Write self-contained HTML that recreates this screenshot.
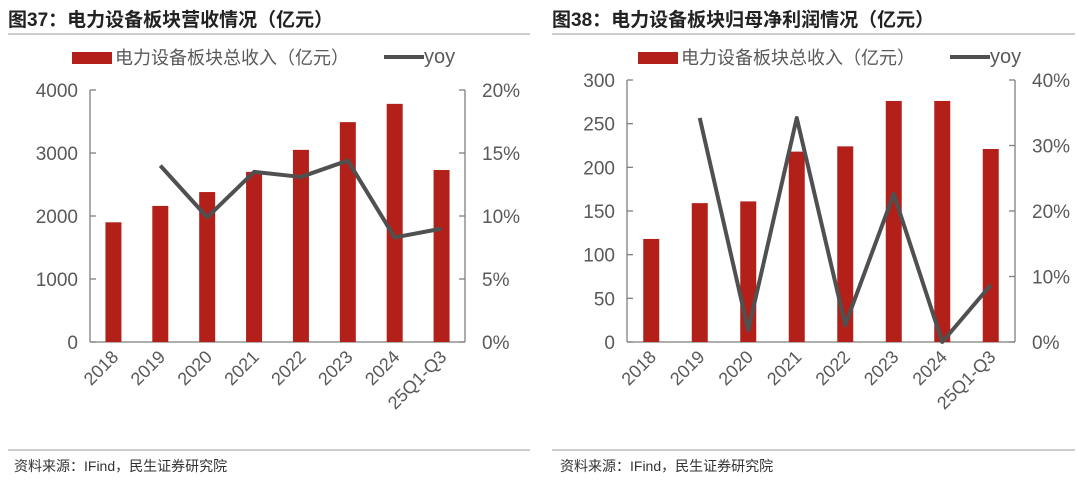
<!DOCTYPE html>
<html><head><meta charset="utf-8">
<style>
body{margin:0;background:#fff;width:1080px;height:479px;overflow:hidden;font-family:"Liberation Sans","Noto Sans CJK SC",sans-serif;}
svg text{font-family:"Liberation Sans","Noto Sans CJK SC",sans-serif;}
</style></head>
<body>
<svg id="s" width="1080" height="479" xmlns="http://www.w3.org/2000/svg">
<text x="8" y="26" font-size="19" font-weight="bold" fill="#222">图37：电力设备板块营收情况（亿元）</text>
<text x="552" y="26" font-size="19" font-weight="bold" fill="#222">图38：电力设备板块归母净利润情况（亿元）</text>
<line x1="8" y1="34" x2="530" y2="34" stroke="#999" stroke-width="1"/>
<line x1="552" y1="34" x2="1075" y2="34" stroke="#999" stroke-width="1"/>
<line x1="8" y1="450" x2="530" y2="450" stroke="#999" stroke-width="1"/>
<line x1="552" y1="450" x2="1075" y2="450" stroke="#999" stroke-width="1"/>
<text x="14" y="471" font-size="14" fill="#333">资料来源：IFind，民生证券研究院</text>
<text x="560" y="471" font-size="14" fill="#333">资料来源：IFind，民生证券研究院</text>
<g id="g1"></g><g id="g2"></g>
</svg>
<script>
const categories=["2018","2019","2020","2021","2022","2023","2024","25Q1-Q3"];
const revenue=[1900,2160,2380,2700,3050,3490,3780,2730];
const revenueYoy=[null,14.0,9.9,13.5,13.1,14.4,8.3,9.0];
const profit=[118,159,161,218,224,276,276,221];
const profitYoy=[null,34.2,1.8,34.2,2.6,22.6,0,8.7];
const leftTicks=[0,1000,2000,3000,4000];
const leftPctTicks=[0,5,10,15,20];
const rightTicks=[0,50,100,150,200,250,300];
const rightPctTicks=[0,10,20,30,40];
const NS="http://www.w3.org/2000/svg";
function mk(p,t,a){const e=document.createElementNS(NS,t);for(const k in a)e.setAttribute(k,a[k]);p.appendChild(e);return e;}
function draw(g,cfg){
 const {x0,x1,yTop,yBot,vals,yoy,ticks,pticks,vmax,pmax,legX,bw,pre}=cfg;
 const step=(x1-x0)/categories.length;
 const xs=i=>x0+step*(i+0.5);
 const yv=v=>yBot-(v/vmax)*(yBot-yTop);
 const yp=v=>yBot-(v/pmax)*(yBot-yTop);
 let e=mk(g,"line",{x1:x0,y1:yBot,x2:x1,y2:yBot,stroke:"#7f7f7f","stroke-width":1.3});
 
 
 e=mk(g,"line",{x1:x0,y1:yTop,x2:x0,y2:yBot,stroke:"#7f7f7f","stroke-width":1.3});
 
 
 e=mk(g,"line",{x1:x1,y1:yTop,x2:x1,y2:yBot,stroke:"#7f7f7f","stroke-width":1.3});
 
 
 ticks.forEach(t=>{const el=mk(g,"text",{x:x0-12,y:yv(t)+7,"font-size":19,"text-anchor":"end",fill:"#595959"});el.textContent=t;
  
  
  const tm=mk(g,"line",{x1:x0,y1:yv(t),x2:x0+6,y2:yv(t),stroke:"#7f7f7f","stroke-width":1.3});
  
  });
 pticks.forEach(t=>{const el=mk(g,"text",{x:x1+17,y:yp(t)+7,"font-size":19,fill:"#595959"});el.textContent=t+"%";
  
  
  const tm=mk(g,"line",{x1:x1-6,y1:yp(t),x2:x1,y2:yp(t),stroke:"#7f7f7f","stroke-width":1.3});
  
  });
 vals.forEach((v,i)=>{const r=mk(g,"rect",{x:xs(i)-bw/2,y:yv(v),width:bw,height:yBot-yv(v),fill:"#B22019"});
  
  
  const tx=xs(i)+6,ty=yBot+16;
  const l=mk(g,"text",{x:tx,y:ty,"font-size":18,"text-anchor":"end",fill:"#595959",transform:`rotate(-45 ${tx} ${ty})`});l.textContent=categories[i];
  
  });
 let d="";yoy.forEach((v,i)=>{if(v===null)return;d+=(d?"L":"M")+xs(i)+","+yp(v);});
 const p=mk(g,"path",{d:d,fill:"none",stroke:"#505050","stroke-width":4,"stroke-linejoin":"round"});
 
 
 const lr=mk(g,"rect",{x:legX,y:52,width:40,height:12,fill:"#B22019"});
 
 
 const lt=mk(g,"text",{x:legX+43,y:64,"font-size":18,fill:"#595959"});lt.textContent="电力设备板块总收入（亿元）";
 
 
 const ll=mk(g,"line",{x1:legX+312,y1:57,x2:legX+352,y2:57,stroke:"#505050","stroke-width":4});
 
 
 const lt2=mk(g,"text",{x:legX+352,y:63,"font-size":20,fill:"#595959"});lt2.textContent="yoy";
 
 
}
draw(document.getElementById("g1"),{x0:90,x1:465,yTop:90,yBot:342,vals:revenue,yoy:revenueYoy,ticks:leftTicks,pticks:leftPctTicks,vmax:4000,pmax:20,legX:72,bw:16,pre:"left"});
draw(document.getElementById("g2"),{x0:627,x1:1015,yTop:80,yBot:342,vals:profit,yoy:profitYoy,ticks:rightTicks,pticks:rightPctTicks,vmax:300,pmax:40,legX:638,bw:16,pre:"right"});
</script>
</body></html>
